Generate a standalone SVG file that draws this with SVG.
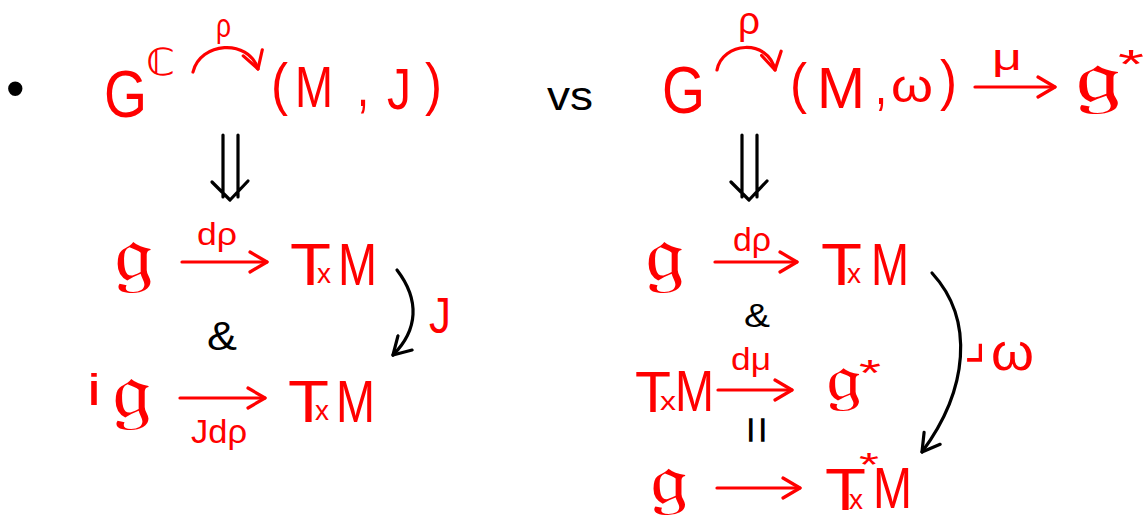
<svg xmlns="http://www.w3.org/2000/svg" width="1148" height="517" viewBox="0 0 1148 517">
<style>
.r{fill:#ff0000;font-family:"Liberation Sans","DejaVu Sans",sans-serif}
.k{fill:#000000;font-family:"Liberation Sans","DejaVu Sans",sans-serif}
.f{fill:#ff0000;font-family:"DejaVu Sans","DejaVu Serif","Noto Sans",sans-serif}
.cr{stroke:#ff0000;stroke-width:3.2;fill:none;stroke-linecap:round;stroke-linejoin:round}
.ck{stroke:#000000;stroke-width:3.2;fill:none;stroke-linecap:round;stroke-linejoin:round}
</style>
<defs>
<marker id="ar" markerUnits="userSpaceOnUse" viewBox="0 0 22 24" refX="19" refY="12" markerWidth="22" markerHeight="24" orient="auto">
<path d="M2,2 L19,12 L2,22" fill="none" stroke="#ff0000" stroke-width="3.2" stroke-linecap="round" stroke-linejoin="round"/>
</marker>
<marker id="ak" markerUnits="userSpaceOnUse" viewBox="0 0 22 24" refX="19" refY="12" markerWidth="22" markerHeight="24" orient="auto">
<path d="M2,2 L19,12 L2,22" fill="none" stroke="#000000" stroke-width="3.2" stroke-linecap="round" stroke-linejoin="round"/>
</marker>
</defs>

<text class="k" x="6" y="107" font-size="53">•</text>
<text class="k" x="547" y="110" font-size="40" textLength="46" lengthAdjust="spacingAndGlyphs">vs</text>

<g id="n-gc">
<text class="r" x="104" y="117" font-size="66" textLength="43" lengthAdjust="spacingAndGlyphs">G</text>
<text class="f" x="146" y="75" font-size="37" textLength="29" lengthAdjust="spacingAndGlyphs">ℂ</text>
</g>
<g id="n-mj">
<text class="r" x="271" y="104" font-size="58" textLength="17" lengthAdjust="spacingAndGlyphs">(</text>
<text class="r" x="295" y="107" font-size="58" textLength="38" lengthAdjust="spacingAndGlyphs">M</text>
<text class="r" x="357" y="106" font-size="58" textLength="12" lengthAdjust="spacingAndGlyphs">,</text>
<text class="r" x="387" y="109" font-size="58" textLength="24" lengthAdjust="spacingAndGlyphs">J</text>
<text class="r" x="425" y="104" font-size="58" textLength="17" lengthAdjust="spacingAndGlyphs">)</text>
</g>

<g id="n-g">
<text class="r" x="662" y="113" font-size="66" textLength="43" lengthAdjust="spacingAndGlyphs">G</text>
</g>
<g id="n-mw">
<text class="r" x="790" y="102" font-size="56" textLength="17" lengthAdjust="spacingAndGlyphs">(</text>
<text class="r" x="817" y="108" font-size="57" textLength="48" lengthAdjust="spacingAndGlyphs">M</text>
<text class="r" x="875" y="104" font-size="56" textLength="12" lengthAdjust="spacingAndGlyphs">,</text>
<text class="r" x="891" y="102" font-size="46" textLength="42" lengthAdjust="spacingAndGlyphs">ω</text>
<text class="r" x="940" y="99" font-size="56" textLength="17" lengthAdjust="spacingAndGlyphs">)</text>
</g>
<g id="n-gstar">
<text class="f" x="1075" y="102" font-size="75" textLength="46" lengthAdjust="spacingAndGlyphs">𝔤</text>
<text class="r" x="1118" y="78" font-size="40" textLength="26" lengthAdjust="spacingAndGlyphs">*</text>
</g>

<g id="n-g1">
<text class="f" x="114" y="281" font-size="80" textLength="40" lengthAdjust="spacingAndGlyphs">𝔤</text>
</g>
<g id="n-txm1">
<text class="r" x="290" y="285" font-size="60" textLength="41" lengthAdjust="spacingAndGlyphs">T</text>
<text class="r" x="317" y="283" font-size="28" textLength="14" lengthAdjust="spacingAndGlyphs">x</text>
<text class="r" x="338" y="285" font-size="60" textLength="39" lengthAdjust="spacingAndGlyphs">M</text>
</g>
<g id="n-ig">
<text class="r" x="87" y="405" font-size="45" textLength="14" lengthAdjust="spacingAndGlyphs">i</text>
<text class="f" x="112" y="418" font-size="80" textLength="40" lengthAdjust="spacingAndGlyphs">𝔤</text>
</g>
<g id="n-txm2">
<text class="r" x="288" y="422" font-size="60" textLength="41" lengthAdjust="spacingAndGlyphs">T</text>
<text class="r" x="315" y="420" font-size="28" textLength="14" lengthAdjust="spacingAndGlyphs">x</text>
<text class="r" x="336" y="422" font-size="60" textLength="39" lengthAdjust="spacingAndGlyphs">M</text>
</g>
<text class="k" x="207" y="350" font-size="40" textLength="30" lengthAdjust="spacingAndGlyphs">&amp;</text>

<g id="n-g2">
<text class="f" x="645" y="281" font-size="80" textLength="40" lengthAdjust="spacingAndGlyphs">𝔤</text>
</g>
<g id="n-txm3">
<text class="r" x="821" y="285" font-size="60" textLength="41" lengthAdjust="spacingAndGlyphs">T</text>
<text class="r" x="847" y="283" font-size="28" textLength="14" lengthAdjust="spacingAndGlyphs">x</text>
<text class="r" x="871" y="285" font-size="60" textLength="38" lengthAdjust="spacingAndGlyphs">M</text>
</g>
<text class="k" x="744" y="327" font-size="34" textLength="26" lengthAdjust="spacingAndGlyphs">&amp;</text>
<g id="n-txm4">
<text class="r" x="635" y="412" font-size="58" textLength="36" lengthAdjust="spacingAndGlyphs">T</text>
<text class="r" x="660" y="410" font-size="26" textLength="16" lengthAdjust="spacingAndGlyphs">x</text>
<text class="r" x="675" y="411" font-size="58" textLength="39" lengthAdjust="spacingAndGlyphs">M</text>
</g>
<g id="n-gstar2">
<text class="f" x="826" y="401" font-size="67" textLength="36" lengthAdjust="spacingAndGlyphs">𝔤</text>
<text class="r" x="859" y="386" font-size="36" textLength="22" lengthAdjust="spacingAndGlyphs">*</text>
</g>
<text class="k" transform="translate(757,430) rotate(90)" text-anchor="middle" dominant-baseline="central" font-size="48">=</text>
<g id="n-g3">
<text class="f" x="650" y="504" font-size="72" textLength="38" lengthAdjust="spacingAndGlyphs">𝔤</text>
</g>
<g id="n-tstarm">
<text class="r" x="825" y="510" font-size="60" textLength="41" lengthAdjust="spacingAndGlyphs">T</text>
<text class="r" x="849" y="509" font-size="28" textLength="14" lengthAdjust="spacingAndGlyphs">x</text>
<text class="r" x="859" y="476" font-size="34" textLength="20" lengthAdjust="spacingAndGlyphs">*</text>
<text class="r" x="873" y="508" font-size="58" textLength="39" lengthAdjust="spacingAndGlyphs">M</text>
</g>

<g id="connectors">
<path class="cr" d="M193,72 C200,42 248,38 258,69" marker-end="url(#ar)"/>
<path class="cr" d="M717,70 C722,42 768,38 775,70" marker-end="url(#ar)"/>
<path class="cr" d="M975,87 L1055,87" marker-end="url(#ar)"/>
<path class="ck" d="M223,135 L223,197 M238,135 L238,197 M212,182 L230,200 L248,181"/>
<path class="ck" d="M742,135 L742,197 M757,135 L757,197 M731,182 L749,200 L767,181"/>
<path class="cr" d="M182,262 L267,262" marker-end="url(#ar)"/>
<path class="cr" d="M180,398 L265,398" marker-end="url(#ar)"/>
<path class="ck" d="M397,270 C420,300 418,330 393,355" marker-end="url(#ak)"/>
<path class="cr" d="M715,262 L797,262" marker-end="url(#ar)"/>
<path class="cr" d="M718,390 L792,390" marker-end="url(#ar)"/>
<path class="cr" d="M717,488 L800,488" marker-end="url(#ar)"/>
<path class="ck" d="M932,273 C975,320 968,390 922,452" marker-end="url(#ak)"/>
<text class="r" x="216" y="37" font-size="34" textLength="15" lengthAdjust="spacingAndGlyphs">ρ</text>
<text class="r" x="738" y="34" font-size="38" textLength="22" lengthAdjust="spacingAndGlyphs">ρ</text>
<text class="r" x="992" y="70" font-size="36" textLength="30" lengthAdjust="spacingAndGlyphs">μ</text>
<text class="r" x="197" y="245" font-size="32" textLength="40" lengthAdjust="spacingAndGlyphs">dρ</text>
<text class="r" x="191" y="443" font-size="34" textLength="56" lengthAdjust="spacingAndGlyphs">Jdρ</text>
<text class="r" x="429" y="333" font-size="50" textLength="22" lengthAdjust="spacingAndGlyphs">J</text>
<text class="r" x="733" y="251" font-size="34" textLength="38" lengthAdjust="spacingAndGlyphs">dρ</text>
<text class="r" x="731" y="370" font-size="32" textLength="40" lengthAdjust="spacingAndGlyphs">dμ</text>
<text class="f" x="964" y="358" font-size="54" textLength="22" lengthAdjust="spacingAndGlyphs">⌟</text>
<text class="r" x="991" y="370" font-size="52" textLength="43" lengthAdjust="spacingAndGlyphs">ω</text>
</g>
</svg>
